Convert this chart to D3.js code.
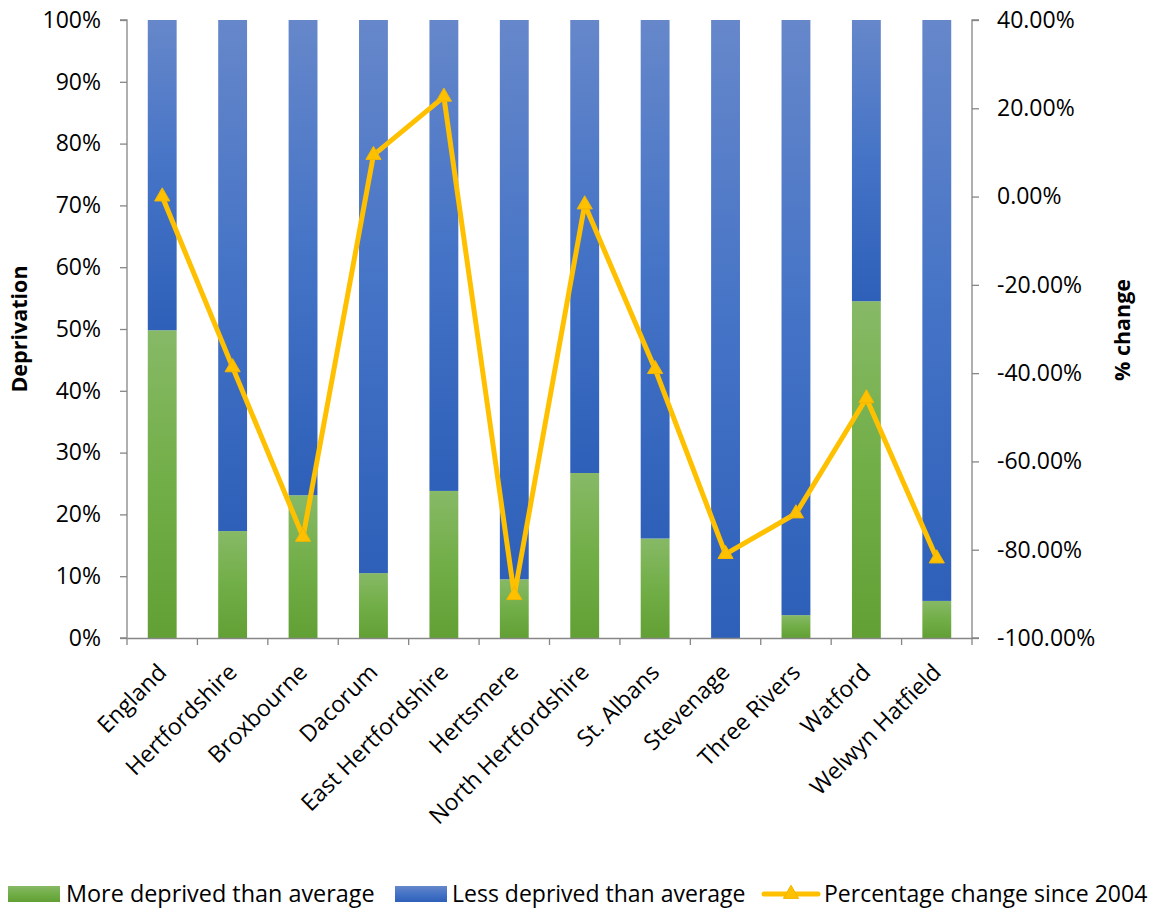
<!DOCTYPE html>
<html><head><meta charset="utf-8">
<script src="https://cdn.jsdelivr.net/npm/d3@7"></script>
<style>
html,body{margin:0;padding:0;background:#fff;}
svg{display:block;}
text{font-family:"Open Sans",sans-serif;fill:#000;}
</style></head>
<body>
<script>
const categories = ["England","Hertfordshire","Broxbourne","Dacorum","East Hertfordshire","Hertsmere","North Hertfordshire","St. Albans","Stevenage","Three Rivers","Watford","Welwyn Hatfield"];
const moreDeprived = [49.8, 17.3, 23.1, 10.5, 23.8, 9.5, 26.7, 16.1, 0, 3.7, 54.5, 6.0];
const lessDeprived = [50.2, 82.7, 76.9, 89.5, 76.2, 90.5, 73.3, 83.9, 100, 96.3, 45.5, 94.0];
const pctChange = [0.0, -38.7, -77.1, 9.4, 22.6, -90.3, -1.8, -39.1, -81.0, -71.8, -45.7, -82.0];
const leftTicks = [0,10,20,30,40,50,60,70,80,90,100];
const rightTicks = [40,20,0,-20,-40,-60,-80,-100];
const seriesNames = ["More deprived than average","Less deprived than average","Percentage change since 2004"];

const W = 1156, H = 908;
const m = {left:127, right:972, top:20, bottom:638};
const axisColor = "#868686";
const lineColor = "#ffc000";
const fs = 23;

const svg = d3.select("body").append("svg").attr("width",W).attr("height",H);
const defs = svg.append("defs");
const gG = defs.append("linearGradient").attr("id","gGreen").attr("x1",0).attr("y1",0).attr("x2",0).attr("y2",1);
gG.append("stop").attr("offset","0%").attr("stop-color","#87b966");
gG.append("stop").attr("offset","50%").attr("stop-color","#71ae47");
gG.append("stop").attr("offset","100%").attr("stop-color","#62a035");
const gB = defs.append("linearGradient").attr("id","gBlue").attr("x1",0).attr("y1",0).attr("x2",0).attr("y2",1);
gB.append("stop").attr("offset","0%").attr("stop-color","#6687ca");
gB.append("stop").attr("offset","50%").attr("stop-color","#4473c6");
gB.append("stop").attr("offset","100%").attr("stop-color","#2e60b9");

const x = d3.scaleBand().domain(categories).range([m.left, m.right]).paddingInner(0.59).paddingOuter(0.295);
const xb = d3.scaleBand().domain(categories).range([m.left, m.right]);
const yL = d3.scaleLinear().domain([0,100]).range([m.bottom, m.top]);
const yR = d3.scaleLinear().domain([-100,40]).range([m.bottom, m.top]);

// bars
const data = categories.map((c,i)=>({c, more:moreDeprived[i], less:lessDeprived[i], pct:pctChange[i]}));
const bars = svg.append("g");
bars.selectAll("rect.more").data(data).enter().append("rect").attr("class","more")
  .attr("x",d=>x(d.c)).attr("width",x.bandwidth())
  .attr("y",d=>yL(d.more)).attr("height",d=>yL(0)-yL(d.more))
  .attr("fill","url(#gGreen)");
bars.selectAll("rect.less").data(data).enter().append("rect").attr("class","less")
  .attr("x",d=>x(d.c)).attr("width",x.bandwidth())
  .attr("y",d=>yL(d.more+d.less)).attr("height",d=>yL(d.more)-yL(d.more+d.less))
  .attr("fill","url(#gBlue)");

// axes
const axL = d3.axisLeft(yL).tickValues(leftTicks).tickFormat(d=>d+"%").tickSize(7).tickPadding(19);
const gl = svg.append("g").attr("transform",`translate(${m.left},0)`).call(axL);
const axR = d3.axisRight(yR).tickValues(rightTicks).tickFormat(d=>d.toFixed(2)+"%").tickSize(7).tickPadding(18);
const gr = svg.append("g").attr("transform",`translate(${m.right},0)`).call(axR);
const axB = d3.axisBottom(xb).tickSize(0).tickFormat("");
const gb = svg.append("g").attr("transform",`translate(0,${m.bottom})`).call(axB);
gb.selectAll(".tickmarks").data(d3.range(categories.length+1)).enter().append("line")
  .attr("x1",i=>m.left + i*xb.step()).attr("x2",i=>m.left + i*xb.step())
  .attr("y1",0).attr("y2",7).attr("stroke",axisColor).attr("stroke-width",1.3);
[gl,gr,gb].forEach(g=>{
  g.select(".domain").attr("stroke",axisColor).attr("stroke-width",1.3);
  g.selectAll(".tick line").attr("stroke",axisColor).attr("stroke-width",1.3);
  g.selectAll(".tick text").attr("font-size",fs).attr("font-family","'Open Sans',sans-serif").attr("fill","#000");
});
gl.select(".domain").attr("d",`M-7,${m.top}H0V${m.bottom}H-7`);
gr.select(".domain").attr("d",`M7,${m.top}H0V${m.bottom}H7`);

// category labels
svg.append("g").selectAll("text").data(categories).enter().append("text")
  .attr("transform",d=>`translate(${xb(d)+xb.bandwidth()/2},${m.bottom+30}) rotate(-45)`)
  .attr("text-anchor","end").attr("font-size",fs).attr("dy","0.35em").text(d=>d);

// axis titles
svg.append("text").attr("transform",`translate(27,${(m.top+m.bottom)/2}) rotate(-90)`)
  .attr("text-anchor","middle").attr("font-size",21.5).attr("font-weight","bold").text("Deprivation");
svg.append("text").attr("transform",`translate(1130,${(m.top+m.bottom)/2+1}) rotate(-90)`)
  .attr("text-anchor","middle").attr("font-size",21.5).attr("font-weight","bold").text("% change");

// line
const line = d3.line().x(d=>xb(d.c)+xb.bandwidth()/2).y(d=>yR(d.pct));
svg.append("path").datum(data).attr("d",line).attr("fill","none")
  .attr("stroke",lineColor).attr("stroke-width",5).attr("stroke-linejoin","round");
const tri = d3.symbol().type(d3.symbolTriangle).size(100);
svg.append("g").selectAll("path").data(data).enter().append("path")
  .attr("d",tri).attr("transform",d=>`translate(${xb(d.c)+xb.bandwidth()/2},${yR(d.pct)})`)
  .attr("fill",lineColor).attr("stroke","#f2b600").attr("stroke-width",1);

// legend
const ly = 894;
const lg = svg.append("g");
lg.append("rect").attr("x",8).attr("y",ly-8).attr("width",52).attr("height",16).attr("fill","url(#gGreen)");
lg.append("text").attr("x",66).attr("y",ly).attr("dy","0.35em").attr("font-size",23.4).text(seriesNames[0]);
lg.append("rect").attr("x",395).attr("y",ly-8).attr("width",52).attr("height",16).attr("fill","url(#gBlue)");
lg.append("text").attr("x",452).attr("y",ly).attr("dy","0.35em").attr("font-size",fs).text(seriesNames[1]);
lg.append("line").attr("x1",764).attr("x2",818).attr("y1",ly).attr("y2",ly).attr("stroke",lineColor).attr("stroke-width",5).attr("stroke-linecap","round");
lg.append("path").attr("d",tri).attr("transform",`translate(791,${ly})`).attr("fill",lineColor).attr("stroke","#f2b600");
lg.append("text").attr("x",824).attr("y",ly).attr("dy","0.35em").attr("font-size",fs).text(seriesNames[2]);
</script>
</body></html>
